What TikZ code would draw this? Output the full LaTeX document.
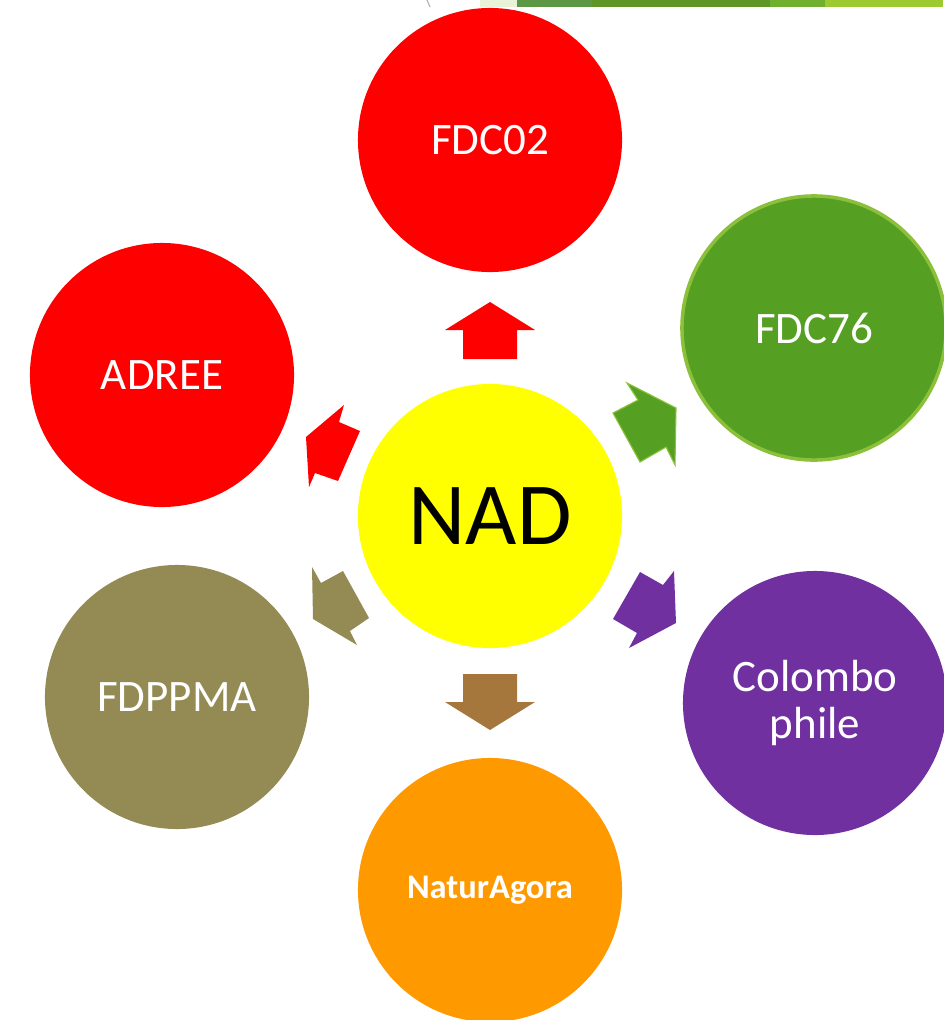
\documentclass[tikz,border=0pt]{standalone}
\usepackage{fontspec}
\setmainfont{Carlito}
\usepackage{tikz}
\usetikzlibrary{calc}
\definecolor{nadred}{HTML}{FF0000}
\definecolor{nadgreen}{HTML}{55A023}
\definecolor{nadlime}{HTML}{8CC03A}
\definecolor{nadyellow}{HTML}{FFFF00}
\definecolor{nadpurple}{HTML}{7030A0}
\definecolor{nadolive}{HTML}{948A54}
\definecolor{nadorange}{HTML}{FF9900}
\definecolor{nadbrown}{HTML}{A5773D}
\tikzstyle{every node}=[font=\fontsize{32}{33}\selectfont]
\tikzstyle{bubble}=[circle, minimum size=6.6cm, inner sep=0pt, text=white, align=center]

\begin{document}
\begin{tikzpicture}[x=0.025cm, y=-0.025cm]
        \useasboundingbox (0, 0) rectangle (943, 1020);
        % strip at the top
        \fill [nadlime!20] (480, 0) rectangle (517, 7);
        \fill [green!30!black!40!nadgreen!80] (517, 0) rectangle (592, 7);
        \fill [nadgreen!75!black!60!nadlime] (592, 0) rectangle (770, 7);
        \fill [nadgreen!50!nadlime] (770, 0) rectangle (825, 7);
        \fill [nadlime!85!yellow] (825, 0) rectangle (943, 7);
        \draw [gray!60, line width=0.8pt] (427, 0) -- (430, 7);
        % circles
        \node [bubble, fill=nadyellow, text=black, font=\fontsize{63}{66}\selectfont] (nad) at (490, 516) {NAD};
        \node [bubble, fill=nadred] (fdcz) at (490, 140) {FDC02};
        \node [bubble, fill=nadgreen, draw=nadlime, line width=2.5pt, minimum size=6.6cm] (fdcs) at (814, 328) {FDC76};
        \node [bubble, fill=nadpurple] (colombo) at (815, 703) {Colombo\\phile};
        \node [bubble, fill=nadorange, font=\bfseries\fontsize{24.5}{26}\selectfont] (natur) at (490, 890) {NaturAgora};
        \node [bubble, fill=nadolive] (fdppma) at (177, 697) {FDPPMA};
        \node [bubble, fill=nadred] (adree) at (162, 375) {ADREE};
        % arrows
        \fill [nadred] (463, 359) -- (463, 330) -- (445, 330) -- (490, 302) -- (535, 330) -- (517, 330) -- (517, 359) -- cycle;
        \filldraw [fill=nadgreen, draw=nadlime, line width=0.8pt] (627, 383) -- (676, 408) -- (675, 465) -- (666, 447) -- (640, 462) -- (613, 413) -- (638, 400) -- cycle;
        \fill [nadpurple] (640, 572) -- (663, 585) -- (674, 571) -- (676, 623) -- (629, 648) -- (637, 633) -- (613, 619) -- cycle;
        \fill [nadbrown] (463, 674) -- (517, 674) -- (517, 702) -- (535, 702) -- (490, 730) -- (445, 702) -- (463, 702) -- cycle;
        \fill [nadolive] (312, 567) -- (321, 583) -- (343, 571) -- (369, 618) -- (350, 631) -- (357, 645) -- (313, 619) -- cycle;
        \fill [nadred] (344, 405) -- (339, 422) -- (360, 431) -- (338, 481) -- (315, 473) -- (309, 487) -- (306, 437) -- cycle;
    \end{tikzpicture}
\end{document}
